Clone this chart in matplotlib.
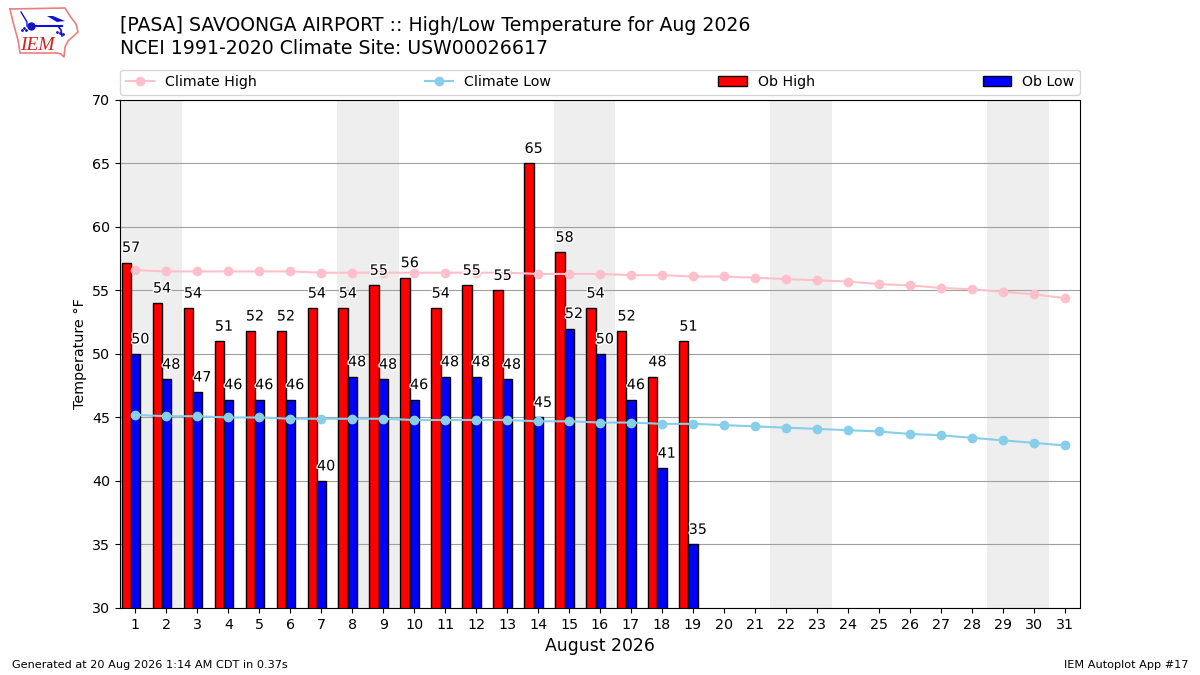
import numpy as np
import matplotlib
matplotlib.use("Agg")
import matplotlib.pyplot as plt
import matplotlib.patheffects as pe
from matplotlib.ticker import MultipleLocator

days = np.arange(1, 32)
ob_days = np.arange(1, 20)
ob_high = [57.2, 54, 53.6, 51, 51.8, 51.8, 53.6, 53.6, 55.4, 56, 53.6, 55.4, 55, 65, 58, 53.6, 51.8, 48.2, 51]
ob_low = [50, 48, 47, 46.4, 46.4, 46.4, 40, 48.2, 48, 46.4, 48.2, 48.2, 48, 45, 52, 50, 46.4, 41, 35]
climate_high = [56.6, 56.5, 56.5, 56.5, 56.5, 56.5, 56.4, 56.4, 56.4, 56.4, 56.4, 56.4, 56.4, 56.3, 56.3, 56.3,
                56.2, 56.2, 56.1, 56.1, 56.0, 55.9, 55.8, 55.7, 55.5, 55.4, 55.2, 55.1, 54.9, 54.7, 54.4]
climate_low = [45.2, 45.1, 45.1, 45.0, 45.0, 44.9, 44.9, 44.9, 44.9, 44.8, 44.8, 44.8, 44.8, 44.7, 44.7, 44.6,
               44.6, 44.5, 44.5, 44.4, 44.3, 44.2, 44.1, 44.0, 43.9, 43.7, 43.6, 43.4, 43.2, 43.0, 42.8]
weekends = [(0.5, 2.5), (7.5, 9.5), (14.5, 16.5), (21.5, 23.5), (28.5, 30.5)]

# logo outline, in pixels of the corner crop
logo_x = [10, 65, 70, 76, 78, 68, 65, 64, 61, 57, 20, 18, 13, 10]
logo_y = [9, 8, 16, 24, 32, 41, 47, 57, 54, 53, 53, 40, 22, 9]

fig = plt.figure(figsize=(12, 6.75), dpi=100)
ax = fig.add_axes([0.1, 0.0993, 0.8, 0.7526])

for start, end in weekends:
    ax.axvspan(start, end, color="#eeeeee", lw=0, zorder=0)

ax.bar(ob_days - 0.445, ob_high, width=0.3, align="edge", color="r", edgecolor="k", label="Ob High", zorder=2)
ax.bar(ob_days - 0.145, ob_low, width=0.3, align="edge", color="b", edgecolor="k", label="Ob Low", zorder=2)
ax.plot(days, climate_high, "-o", color="pink", label="Climate High", zorder=3)
ax.plot(days, climate_low, "-o", color="skyblue", label="Climate Low", zorder=3)

halo = [pe.withStroke(linewidth=2, foreground="white")]
for d, hi, lo in zip(ob_days, ob_high, ob_low):
    ax.text(d - 0.145, hi + 0.6, "%.0f" % hi, ha="center", va="bottom", fontsize=10.3, path_effects=halo, zorder=4)
    ax.text(d + 0.155, lo + 0.6, "%.0f" % lo, ha="center", va="bottom", fontsize=10.3, path_effects=halo, zorder=4)

ax.set_xlim(0.5, 31.5)
ax.set_ylim(30, 70)
ax.set_xticks(days)
ax.yaxis.set_major_locator(MultipleLocator(5))
ax.grid(axis="y", color="#a0a0a0", lw=0.8)
ax.set_axisbelow(True)
ax.tick_params(labelsize=10.3)
ax.set_xlabel("August 2026", fontsize=12.4, labelpad=4)
ax.set_ylabel("Temperature \N{DEGREE SIGN}F", fontsize=10.4)

handles, labels = ax.get_legend_handles_labels()
order = [labels.index(n) for n in ["Climate High", "Climate Low", "Ob High", "Ob Low"]]
ax.legend([handles[i] for i in order], [labels[i] for i in order], ncol=4, mode="expand",
          loc="lower left", bbox_to_anchor=(0, 1.01, 1, 0.05), borderaxespad=0, fontsize=10.2)

fig.text(0.1, 0.9144, "[PASA] SAVOONGA AIRPORT :: High/Low Temperature for Aug 2026\n"
         "NCEI 1991-2020 Climate Site: USW00026617", fontsize=13.6, va="bottom", linespacing=1.25)
fig.text(0.01, 0.0075, "Generated at 20 Aug 2026 1:14 AM CDT in 0.37s", fontsize=8.1, va="bottom")
fig.text(0.99, 0.0075, "IEM Autoplot App #17", fontsize=8.1, va="bottom", ha="right")

logo = fig.add_axes([0, 1 - 60 / 675, 85 / 1200, 60 / 675])
logo.set_xlim(0, 85)
logo.set_ylim(60, 0)
logo.axis("off")
logo.plot(logo_x, logo_y, color="#e88080", lw=1.2)
logo.text(37, 45, "IEM", color="#d02020", family="Liberation Serif", style="italic", fontsize=14, ha="center", va="center")
logo.plot([31, 62], [26, 26], color="#1010d0", lw=1.5)
logo.plot([31], [26], "o", color="#1010d0", ms=5)
logo.fill([47, 53, 65, 57], [16, 16, 21, 22], color="#1010d0", lw=0)
logo.plot([21, 27, 27], [12, 22, 26], color="#1010d0", lw=1)
logo.plot([58, 61, 62], [26, 30, 36], color="#1010d0", lw=1.2)
logo.plot([24, 26, 22, 57, 60, 63], [28, 30, 30, 32, 33, 34], ".", color="#1010d0", ms=2)

fig.savefig("out.png", dpi=100)
